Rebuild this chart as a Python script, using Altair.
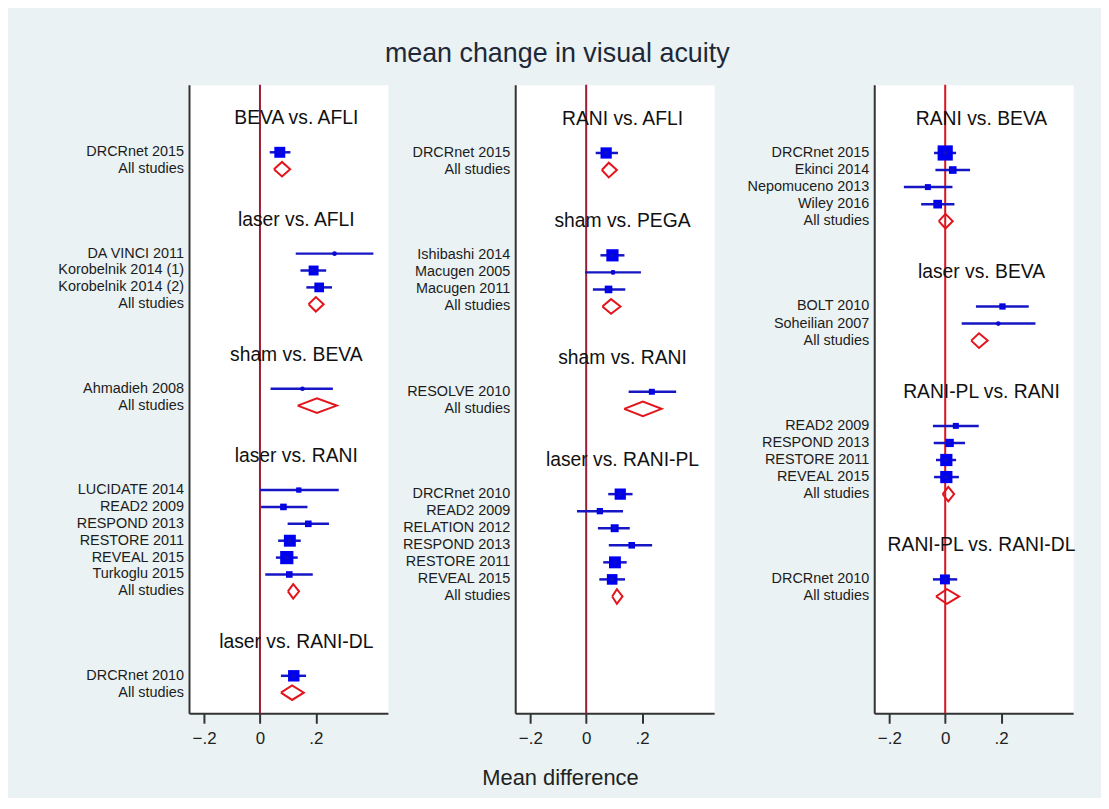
import altair as alt
import pandas as pd

# ---------------- data ----------------
GROUP_PANEL = [0, 0, 0, 0, 0, 1, 1, 1, 1, 2, 2, 2, 2]
GROUP_NAME = ["BEVA vs. AFLI", "laser vs. AFLI", "sham vs. BEVA", "laser vs. RANI",
              "laser vs. RANI-DL", "RANI vs. AFLI", "sham vs. PEGA", "sham vs. RANI",
              "laser vs. RANI-PL", "RANI vs. BEVA", "laser vs. BEVA", "RANI-PL vs. RANI",
              "RANI-PL vs. RANI-DL"]
POOLED_EST = [0.079, 0.200, 0.204, 0.119, 0.115, 0.081, 0.089, 0.203, 0.110,
              0.001, 0.121, 0.011, 0.006]
POOLED_LO = [0.050, 0.174, 0.135, 0.100, 0.075, 0.056, 0.058, 0.136, 0.093,
             -0.023, 0.093, -0.009, -0.033]
POOLED_HI = [0.108, 0.228, 0.275, 0.140, 0.157, 0.110, 0.123, 0.270, 0.130,
             0.027, 0.152, 0.032, 0.050]

STUDY_GROUP = [0, 1, 1, 1, 2, 3, 3, 3, 3, 3, 3, 4,
               5, 6, 6, 6, 7, 8, 8, 8, 8, 8, 8,
               9, 9, 9, 9, 10, 10, 11, 11, 11, 11, 12]
STUDY_NAME = ["DRCRnet 2015", "DA VINCI 2011", "Korobelnik 2014 (1)", "Korobelnik 2014 (2)",
              "Ahmadieh 2008", "LUCIDATE 2014", "READ2 2009", "RESPOND 2013", "RESTORE 2011",
              "REVEAL 2015", "Turkoglu 2015", "DRCRnet 2010",
              "DRCRnet 2015", "Ishibashi 2014", "Macugen 2005", "Macugen 2011", "RESOLVE 2010",
              "DRCRnet 2010", "READ2 2009", "RELATION 2012", "RESPOND 2013", "RESTORE 2011",
              "REVEAL 2015",
              "DRCRnet 2015", "Ekinci 2014", "Nepomuceno 2013", "Wiley 2016", "BOLT 2010",
              "Soheilian 2007", "READ2 2009", "RESPOND 2013", "RESTORE 2011", "REVEAL 2015",
              "DRCRnet 2010"]
STUDY_EST = [0.071, 0.267, 0.192, 0.212, 0.152, 0.139, 0.084, 0.173, 0.107, 0.096, 0.105, 0.121,
             0.0715, 0.094, 0.096, 0.080, 0.235, 0.122, 0.049, 0.102, 0.163, 0.103, 0.093,
             0.000, 0.027, -0.062, -0.027, 0.205, 0.190, 0.038, 0.016, 0.004, 0.004, -0.001]
STUDY_LO = [0.035, 0.128, 0.145, 0.166, 0.038, 0.000, 0.004, 0.099, 0.065, 0.057, 0.019, 0.075,
            0.034, 0.051, -0.004, 0.024, 0.152, 0.079, -0.033, 0.042, 0.081, 0.061, 0.047,
            -0.040, -0.035, -0.148, -0.086, 0.110, 0.059, -0.044, -0.041, -0.033, -0.040, -0.044]
STUDY_HI = [0.109, 0.406, 0.237, 0.258, 0.261, 0.282, 0.170, 0.247, 0.146, 0.135, 0.189, 0.165,
            0.114, 0.137, 0.196, 0.140, 0.322, 0.166, 0.132, 0.156, 0.236, 0.145, 0.139,
            0.039, 0.089, 0.026, 0.033, 0.299, 0.323, 0.120, 0.071, 0.039, 0.049, 0.043]
STUDY_WEIGHT = [121, 9, 100, 95, 9, 28, 44, 44, 144, 177, 44, 132,
                128, 151, 16, 59, 36, 128, 40, 64, 44, 144, 114,
                234, 59, 36, 76, 40, 9, 36, 69, 151, 151, 100]

X_TICKS = [-0.2, 0.0, 0.2]
X_TITLE = "Mean difference"
TITLE = "mean change in visual acuity"

# ---------------- layout / style constants ----------------
X_DOMAIN = [-0.254, 0.458]
Y_DOMAINS = [[-2.0, 35.22], [-2.0, 34.85], [-2.0, 34.85]]
HEADER_X = 0.13
DIAMOND_HALF = 0.43
ZERO_COLORS = ["#9b1c33", "#9b1c33", "#d8141f"]
FONT = "Liberation Sans"
PANEL_W, PANEL_H = 200, 632
GAPS = [127.5, 161]

# ---------------- build tables ----------------
heads, studies, pools = [], [], []
for p in range(3):
    r = 0
    for g, gp in enumerate(GROUP_PANEL):
        if gp != p:
            continue
        heads.append(dict(panel=p, row=r, header=GROUP_NAME[g]))
        r += 2
        for i, sg in enumerate(STUDY_GROUP):
            if sg == g:
                studies.append(dict(panel=p, row=r, label=STUDY_NAME[i], est=STUDY_EST[i],
                                    lo=STUDY_LO[i], hi=STUDY_HI[i], weight=STUDY_WEIGHT[i]))
                r += 1
        pools.append(dict(panel=p, row=r, label="All studies", est=POOLED_EST[g],
                          lo=POOLED_LO[g], hi=POOLED_HI[g], gid=g))
        r += 3

heads = pd.DataFrame(heads)
studies = pd.DataFrame(studies)
pools = pd.DataFrame(pools)
labels = pd.concat([studies[["panel", "row", "label"]], pools[["panel", "row", "label"]]])

dia = []
for _, d in pools.iterrows():
    verts = [(d.lo, d.row), (d.est, d.row - DIAMOND_HALF), (d.hi, d.row),
             (d.est, d.row + DIAMOND_HALF), (d.lo, d.row)]
    for k, (vx, vy) in enumerate(verts):
        dia.append(dict(panel=d.panel, gid=d.gid, k=k, vx=vx, vy=vy))
dia = pd.DataFrame(dia)


def make_panel(p):
    xscale = alt.Scale(domain=X_DOMAIN, nice=False, zero=False)
    yscale = alt.Scale(domain=Y_DOMAINS[p], reverse=True, nice=False, zero=False)
    xaxis = alt.Axis(values=X_TICKS, grid=False,
                     labelExpr="datum.value == 0 ? '0' : replace(format(datum.value, '.1f'), '0.', '.')",
                     title=X_TITLE if p == 1 else None,
                     titleX=45, titleY=65, titleBaseline="middle", titleAlign="center",
                     titleFontSize=22, titleFontWeight="normal", titleColor="#222222", titleFont=FONT,
                     labelFontSize=17, labelColor="#222222", labelFont=FONT, labelPadding=7,
                     tickSize=10, tickWidth=2, tickColor="#333333",
                     domainColor="#333333", domainWidth=2, labelFlush=False)
    yaxis = alt.Axis(labels=False, ticks=False, grid=False, title=None,
                     domainColor="#333333", domainWidth=2)

    def X(field):
        return alt.X(field, type="quantitative", scale=xscale, axis=xaxis)

    def Y(field):
        return alt.Y(field, type="quantitative", scale=yscale, axis=yaxis)

    s = studies[studies.panel == p]
    pl = dia[dia.panel == p]
    hd = heads[heads.panel == p]
    lb = labels[labels.panel == p]

    zero = alt.Chart(pd.DataFrame({"z": [0.0]})).mark_rule(
        color=ZERO_COLORS[p], strokeWidth=2).encode(x=X("z"))
    ci = alt.Chart(s).mark_rule(color="#1616c4", strokeWidth=2.5).encode(
        x=X("lo"), x2="hi", y=Y("row"))
    sq = alt.Chart(s).mark_square(filled=True, opacity=1, color="#0000f0").encode(
        x=X("est"), y=Y("row"),
        size=alt.Size("weight:Q", scale=alt.Scale(domain=[0, 240], range=[0, 240]), legend=None))
    dot = alt.Chart(s).mark_circle(size=22, opacity=1, color="#0a0ad0").encode(
        x=X("est"), y=Y("row"))
    dm = alt.Chart(pl).mark_line(color="#e3141b", strokeWidth=2, strokeJoin="miter").encode(
        x=X("vx"), y=Y("vy"), detail="gid:N", order="k:Q")
    hdr = alt.Chart(hd).mark_text(fontSize=19.4, font=FONT, color="#111111",
                                  align="center", baseline="middle").encode(
        x=alt.datum(HEADER_X), y=Y("row"), text="header:N")
    lab = alt.Chart(lb).mark_text(fontSize=14.5, font=FONT, color="#1c1c1c",
                                  align="right", baseline="middle").encode(
        x=alt.value(-5), y=Y("row"), text="label:N")
    return alt.layer(zero, ci, sq, dot, dm, hdr, lab).properties(
        width=PANEL_W, height=PANEL_H,
        view=alt.ViewBackground(fill="white", stroke="transparent"))


def spacer(w):
    return alt.Chart(pd.DataFrame({"a": [0]})).mark_point(opacity=0).encode(
        x=alt.value(0), y=alt.value(0)).properties(
        width=w, height=PANEL_H,
        view=alt.ViewBackground(fill="transparent", stroke="transparent"))


chart = alt.hconcat(make_panel(0), spacer(GAPS[0]), make_panel(1), spacer(GAPS[1]), make_panel(2),
                    spacing=0, bounds="flush").properties(
    title=alt.TitleParams(TITLE, fontSize=27, font=FONT, fontWeight="normal", color="#1e2838",
                          anchor="start", dx=329, offset=14),
    padding={"left": 49, "top": 29, "right": 24, "bottom": 6},
    background="#eaf2f3",
).configure_view(stroke="transparent")

chart.save("out.html", embed_options={"renderer": "svg", "actions": False})
